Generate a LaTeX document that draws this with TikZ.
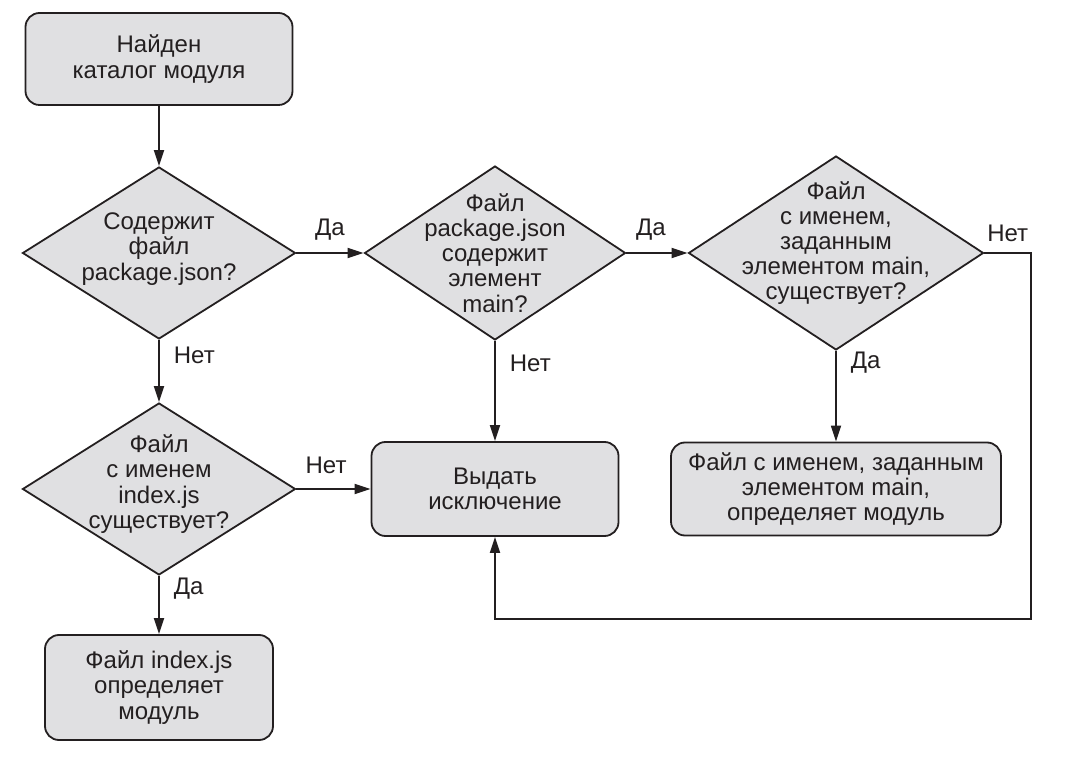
\documentclass[tikz,border=0pt]{standalone}
\usepackage{fontspec}
\setmainfont{Liberation Sans}
\usetikzlibrary{shapes.geometric}
\usetikzlibrary{arrows.meta}
\definecolor{boxgray}{RGB}{224,224,226}
\definecolor{inkgray}{RGB}{35,31,32}

\begin{document}
\begin{tikzpicture}[x=0.5pt,y=-0.5pt,line width=0.9pt,color=inkgray,
>={Triangle[length=8pt,width=5pt]},
font=\fontsize{12}{12.6}\selectfont,
stepbox/.style={draw,rectangle,rounded corners=7pt,fill=boxgray,align=center,inner sep=0pt},
decision/.style={draw,diamond,fill=boxgray,inner sep=0pt},
txt/.style={align=center,inner sep=0pt},
lbl/.style={inner sep=2pt}]

\useasboundingbox (0,0) rectangle (1086,758);

\draw (159,59) node[stepbox,minimum width=133.5pt,minimum height=46pt] (found) {Найден\\каталог модуля};
\draw (159,253) node[decision,minimum width=136.5pt,minimum height=86pt,
  label={[txt,yshift=2pt]center:{Содержит\\файл\\package.json?}}] (hasjson) {};
\draw (495,253) node[decision,minimum width=130.5pt,minimum height=87pt,
  label={[txt]center:{Файл\\package.json\\содержит\\элемент\\main?}}] (hasmain) {};
\draw (836,253) node[decision,minimum width=147.5pt,minimum height=97pt,
  label={[txt,yshift=5pt]center:{Файл\\с именем,\\заданным\\элементом main,\\существует?}}] (mainexists) {};
\draw (159,489) node[decision,minimum width=136.5pt,minimum height=86pt,
  label={[txt,yshift=2.5pt]center:{Файл\\с именем\\index.js\\существует?}}] (indexexists) {};
\draw (495,489) node[stepbox,minimum width=123.5pt,minimum height=47pt] (throwerr) {Выдать\\исключение};
\draw (836,489) node[stepbox,minimum width=165pt,minimum height=46.5pt] (mainmod) {Файл с именем, заданным\\элементом main,\\определяет модуль};
\draw (159,687.5) node[stepbox,minimum width=114pt,minimum height=52.5pt] (indexmod) {Файл index.js\\определяет\\модуль};
\coordinate (loop) at (1031,619);

\draw[->] (found) -- (hasjson);
\draw[->] (hasjson) -- node[lbl,above=4pt] {Да} (hasmain);
\draw[->] (hasmain) -- node[lbl,above=4pt,pos=0.4] {Да} (mainexists);
\draw[->] (hasjson) -- node[lbl,right=5pt,pos=0.25] {Нет} (indexexists);
\draw[->] (hasmain) -- node[lbl,right=5pt,pos=0.22] {Нет} (throwerr);
\draw[->] (mainexists) -- node[lbl,right=5pt,pos=0.13] {Да} (mainmod);
\draw[->] (indexexists) -- node[lbl,above=5pt,pos=0.4] {Нет} (throwerr);
\draw[->] (indexexists) -- node[lbl,right=5pt,pos=0.22] {Да} (indexmod);
\draw[->] (mainexists.east) -- node[lbl,above=3pt] {Нет} (mainexists.east -| loop) -- (loop) -| (throwerr);
\end{tikzpicture}
\end{document}
